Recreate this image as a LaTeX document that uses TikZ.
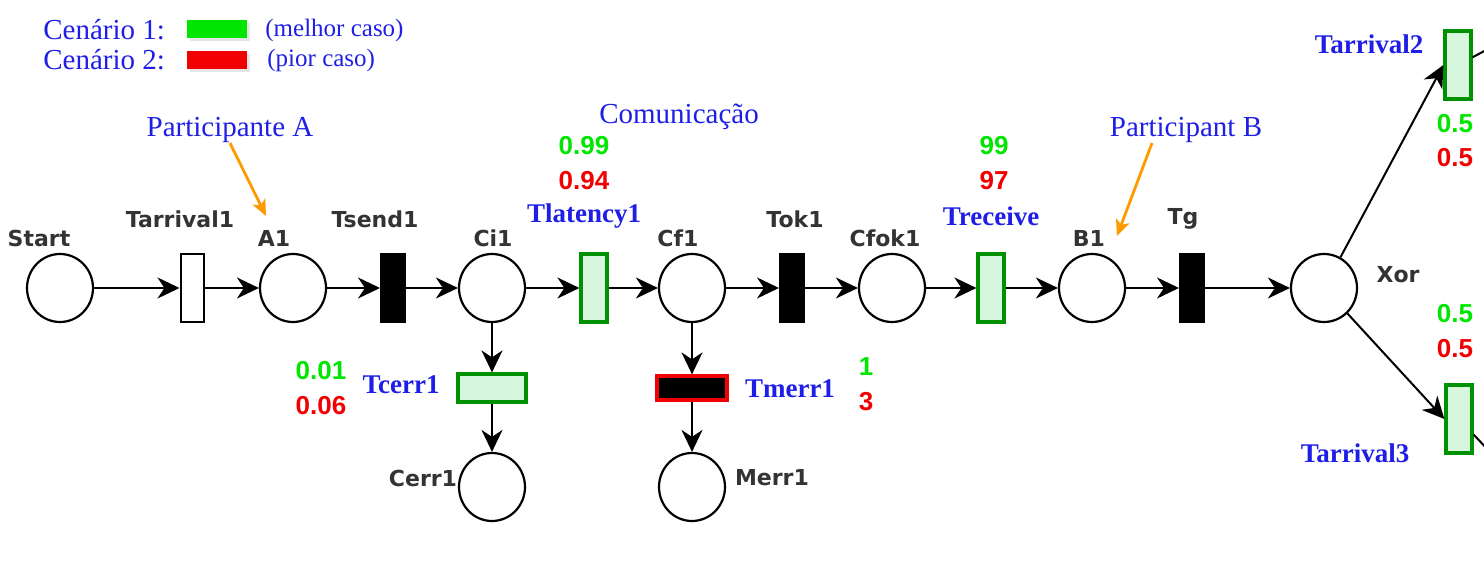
\documentclass[tikz,border=0pt]{standalone}
\usepackage{fontspec}
\setmainfont{Liberation Serif}
\newfontfamily\lblfont{DejaVu Sans}
\newfontfamily\numfont{Liberation Sans}
\usetikzlibrary{arrows.meta,shapes.geometric}

\definecolor{lblgray}{RGB}{51,51,51}
\definecolor{txtblue}{RGB}{30,30,230}
\definecolor{numgreen}{RGB}{0,230,0}
\definecolor{numred}{RGB}{240,0,0}
\definecolor{trgreen}{RGB}{0,145,0}
\definecolor{trfill}{RGB}{214,247,222}
\definecolor{hintorange}{RGB}{255,153,0}

\tikzset{
  place/.style = {ellipse, draw, line width=1.1pt, minimum width=33pt, minimum height=34pt, inner sep=0pt},
  trans/.style = {rectangle, draw, line width=1pt, minimum width=11.5pt, minimum height=34pt, inner sep=0pt},
  btrans/.style = {trans, fill=black, minimum width=12pt},
  gtrans/.style = {trans, draw=trgreen, line width=1.6pt, fill=trfill, minimum width=13pt},
  mtrans/.style = {trans, draw=numred, line width=1.6pt, fill=black, minimum width=35pt, minimum height=12pt},
  arc/.style = {line width=1pt, -{Stealth[length=11pt, width=10.5pt, inset=3.5pt]}},
  hint/.style = {line width=1.4pt, hintorange, -{Stealth[length=8pt, width=7pt, inset=2pt]}},
  lbl/.style = {text=lblgray, font=\lblfont\bfseries\fontsize{11}{13}\selectfont, inner sep=0pt},
  tlbl/.style = {text=txtblue, font=\bfseries\fontsize{13.5}{15}\selectfont, inner sep=0pt},
  note/.style = {text=txtblue, font=\fontsize{14.5}{16}\selectfont, inner sep=0pt},
  good/.style = {text=numgreen, font=\numfont\bfseries\fontsize{13}{15}\selectfont, inner sep=0pt},
  bad/.style = {text=numred, font=\numfont\bfseries\fontsize{13}{15}\selectfont, inner sep=0pt}
}

\begin{document}
\begin{tikzpicture}[x=0.5pt, y=-0.5pt]
\useasboundingbox (0,0) rectangle (1484,566);

% legend
\node (cen1)[note, anchor=west] at (43,30) {Cenário 1:};
\node (cen2)[note, anchor=west] at (43,60) {Cenário 2:};
\fill [black!10] (190,23) rectangle (250,41);
\fill [black!10] (190,54) rectangle (250,72);
\fill [numgreen] (187,20) rectangle (247,38);
\fill [numred] (187,51) rectangle (247,69);
\node (best)[note, anchor=west, font=\fontsize{12.5}{14}\selectfont] at (265,30) {(melhor caso)};
\node (worst)[note, anchor=west, font=\fontsize{12.5}{14}\selectfont] at (267,60) {(pior caso)};

% main row
\node (start)[place] at (60,288) {};
\node (tarr1)[trans] at (192,288) {};
\node (a1)[place] at (293,288) {};
\node (tsend1)[btrans] at (393,288) {};
\node (ci1)[place] at (492,288) {};
\node (tlat1)[gtrans] at (594,288) {};
\node (cf1)[place] at (692,288) {};
\node (tok1)[btrans] at (792,288) {};
\node (cfok1)[place] at (892,288) {};
\node (trec)[gtrans] at (991,288) {};
\node (b1)[place] at (1092,288) {};
\node (tg)[btrans] at (1192,288) {};
\node (xor)[place] at (1324,288) {};
\node (tarr2)[gtrans] at (1458,65) {};
\node (tarr3)[gtrans] at (1459,419) {};

% error branches
\node (tcerr1)[gtrans, minimum width=34pt, minimum height=14pt] at (492,388) {};
\node (cerr1)[place] at (492,487) {};
\node (tmerr1)[mtrans] at (692,388) {};
\node (merr1)[place] at (692,487) {};

\draw [arc](start)--(tarr1);
\draw [arc](tarr1)--(a1);
\draw [arc](a1)--(tsend1);
\draw [arc](tsend1)--(ci1);
\draw [arc](ci1)--(tlat1);
\draw [arc](tlat1)--(cf1);
\draw [arc](cf1)--(tok1);
\draw [arc](tok1)--(cfok1);
\draw [arc](cfok1)--(trec);
\draw [arc](trec)--(b1);
\draw [arc](b1)--(tg);
\draw [arc](tg)--(xor);
\draw [arc](xor)--(tarr2.west);
\draw [arc](xor)--(tarr3.west);
\draw [arc](ci1)--(tcerr1);
\draw [arc](tcerr1)--(cerr1);
\draw [arc](cf1)--(tmerr1);
\draw [arc](tmerr1)--(merr1);

\coordinate (out2) at (1490,48);
\coordinate (out3) at (1490,452);
\draw [line width=1pt](tarr2)--(out2);
\draw [line width=1pt](tarr3)--(out3);

% names
\node (l-start)[lbl] at (39,238) {Start};
\node (l-tarr1)[lbl] at (180,219) {Tarrival1};
\node (l-a1)[lbl] at (274,238) {A1};
\node (l-tsend1)[lbl] at (375,219) {Tsend1};
\node (l-ci1)[lbl] at (493,238) {Ci1};
\node (l-cf1)[lbl] at (678,238) {Cf1};
\node (l-tok1)[lbl] at (795,219) {Tok1};
\node (l-cfok1)[lbl] at (885,238) {Cfok1};
\node (l-b1)[lbl] at (1089,238) {B1};
\node (l-tg)[lbl] at (1183,219) {Tg};
\node (l-xor)[lbl] at (1398,275) {Xor};
\node (l-cerr1)[lbl] at (423,478) {Cerr1};
\node (l-merr1)[lbl] at (772,478) {Merr1};

\node (l-tlat1)[tlbl] at (584,216) {Tlatency1};
\node (l-trec)[tlbl] at (991,216) {Treceive};
\node (l-tcerr1)[tlbl] at (401,385) {Tcerr1};
\node (l-tmerr1)[tlbl] at (790,389) {Tmerr1};
\node (l-tarr2)[tlbl] at (1369,44) {Tarrival2};
\node (l-tarr3)[tlbl] at (1355,453) {Tarrival3};

% values
\node (g-lat)[good] at (584,146) {0.99};
\node (r-lat)[bad] at (584,181) {0.94};
\node (g-rec)[good] at (994,146) {99};
\node (r-rec)[bad] at (994,181) {97};
\node (g-cerr)[good] at (321,371) {0.01};
\node (r-cerr)[bad] at (321,406) {0.06};
\node (g-merr)[good] at (866,367) {1};
\node (r-merr)[bad] at (866,402) {3};
\node (g-arr2)[good] at (1455,124) {0.5};
\node (r-arr2)[bad] at (1455,158) {0.5};
\node (g-arr3)[good] at (1455,314) {0.5};
\node (r-arr3)[bad] at (1455,349) {0.5};

% notes
\node (com)[note] at (679,117) {Comunicação};
\node (pa)[note] at (230,130) {Participante A};
\node (pb)[note] at (1186,130) {Participant B};
\coordinate (pa-tip) at (266,216);
\coordinate (pb-tip) at (1117,236);
\draw [hint](pa.south)--(pa-tip);
\draw [hint]([xshift=-17pt]pb.south)--(pb-tip);
\end{tikzpicture}
\end{document}
